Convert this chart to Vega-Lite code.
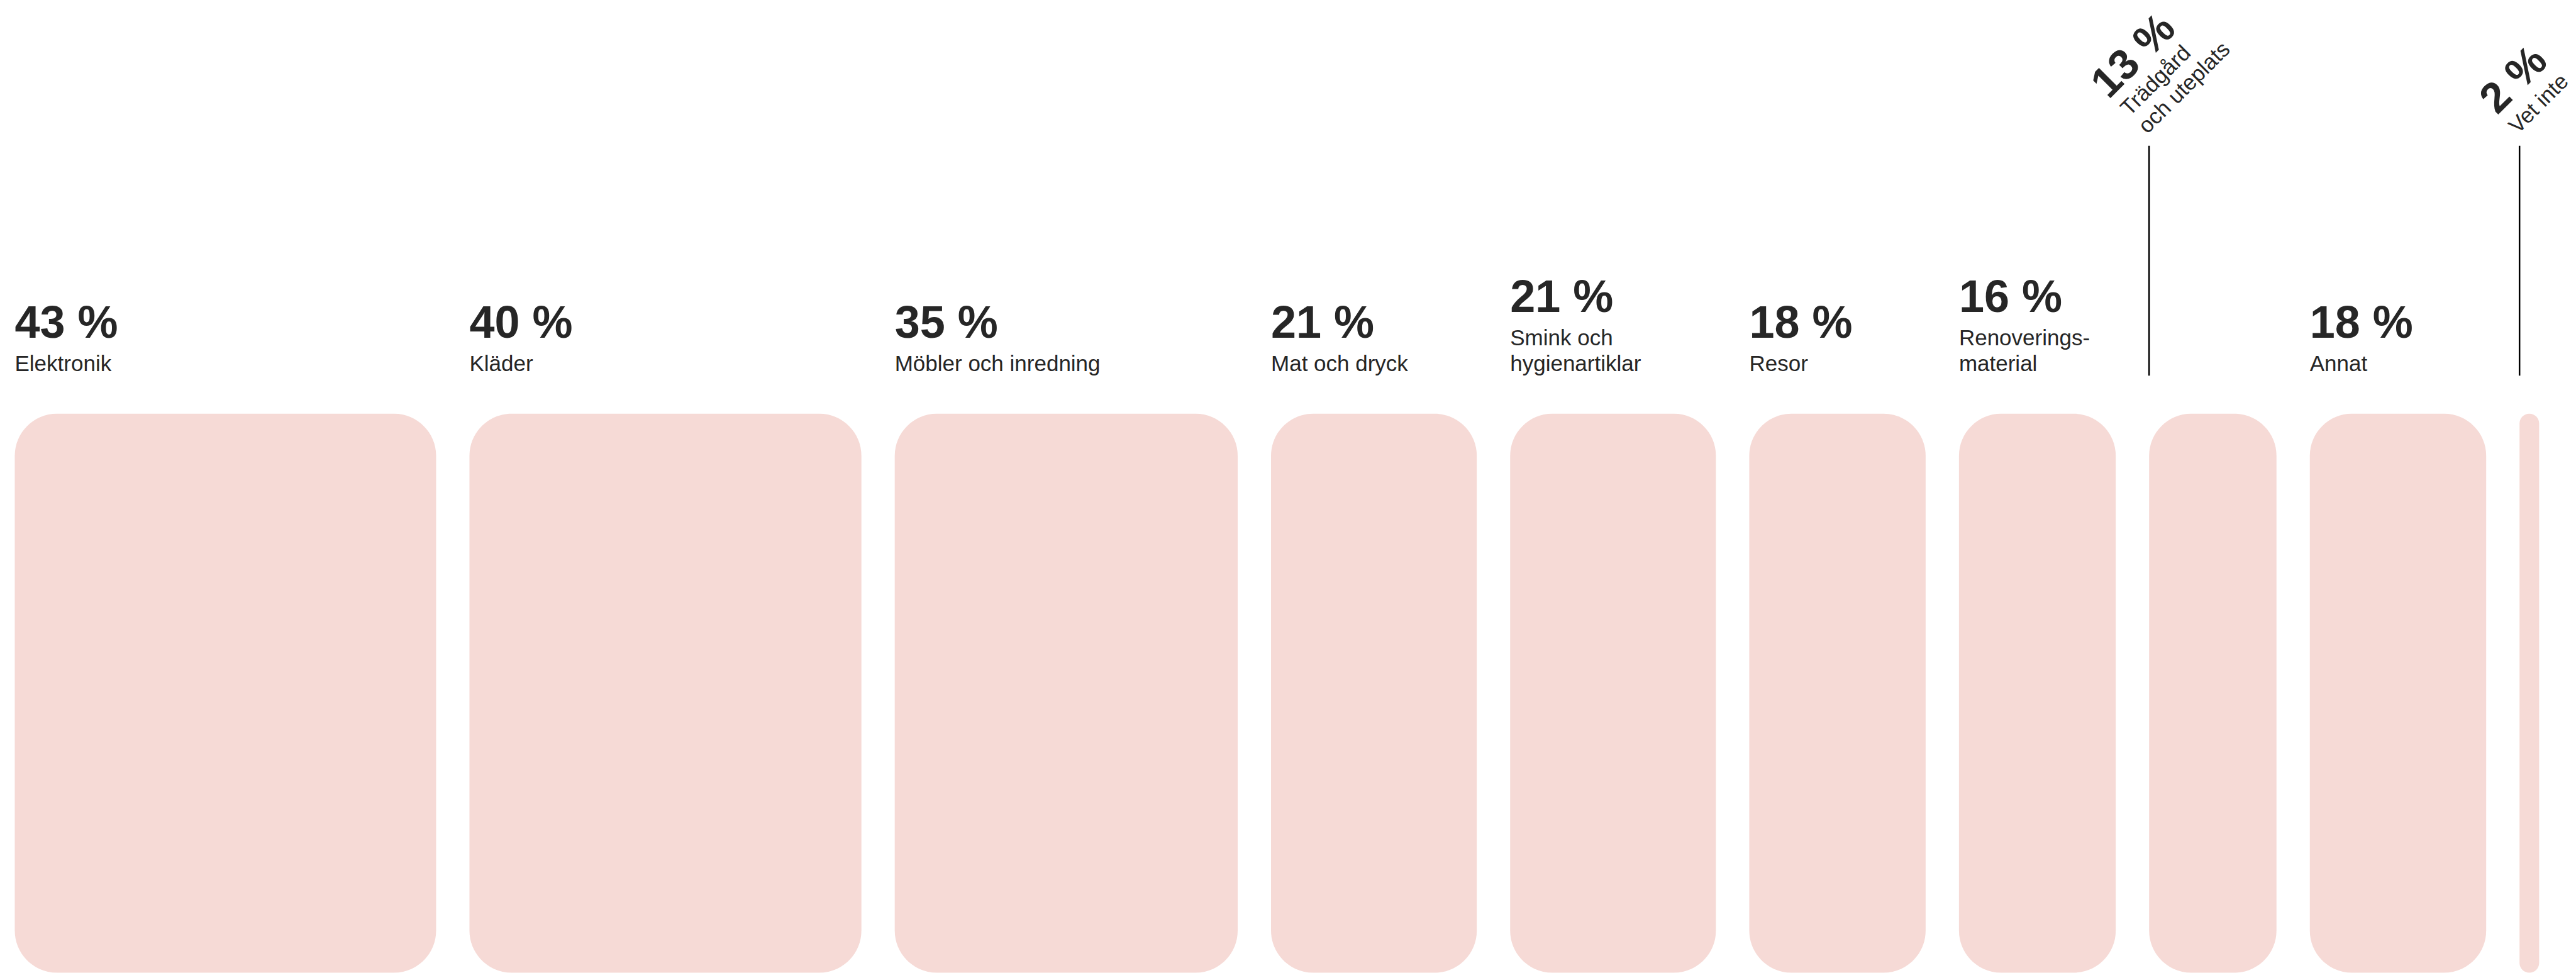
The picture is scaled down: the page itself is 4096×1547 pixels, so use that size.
{
  "$schema": "https://vega.github.io/schema/vega-lite/v6.json",
  "width": 4096,
  "height": 1547,
  "autosize": {"type": "fit", "contains": "padding"},
  "padding": 0,
  "background": "white",
  "config": {"view": {"stroke": null}, "text": {"font": "Liberation Sans", "color": "#262626"}},
  "data": {"values": [
    {"order": 1, "category": "Elektronik", "value": 43, "l1": "", "l2": "Elektronik"},
    {"order": 2, "category": "Kläder", "value": 40, "l1": "", "l2": "Kläder"},
    {"order": 3, "category": "Möbler och inredning", "value": 35, "l1": "", "l2": "Möbler och inredning"},
    {"order": 4, "category": "Mat och dryck", "value": 21, "l1": "", "l2": "Mat och dryck"},
    {"order": 5, "category": "Smink och hygienartiklar", "value": 21, "l1": "Smink och", "l2": "hygienartiklar"},
    {"order": 6, "category": "Resor", "value": 18, "l1": "", "l2": "Resor"},
    {"order": 7, "category": "Renoveringsmaterial", "value": 16, "l1": "Renoverings-", "l2": "material"},
    {"order": 8, "category": "Trädgård och uteplats", "value": 13, "l1": "Trädgård", "l2": "och uteplats"},
    {"order": 9, "category": "Annat", "value": 18, "l1": "", "l2": "Annat"},
    {"order": 10, "category": "Vet inte", "value": 2, "l1": "", "l2": "Vet inte"}
  ]},
  "transform": [
    {"window": [{"op": "sum", "field": "value", "as": "cum"}, {"op": "row_number", "as": "idx"}], "sort": [{"field": "order"}], "frame": [null, 0]},
    {"calculate": "datum.cum - datum.value + 3.403 * (datum.idx - 1)", "as": "x0"},
    {"calculate": "datum.x0 + datum.value", "as": "x1"},
    {"calculate": "datum.value + ' %'", "as": "pct"}
  ],
  "encoding": {
    "x": {"field": "x0", "type": "quantitative", "scale": {"domain": [-1.508, 261.39], "nice": false, "zero": false}, "axis": null}
  },
  "layer": [
    {
      "mark": {"type": "bar", "cornerRadius": 67, "color": "#f6dad6"},
      "encoding": {
        "x2": {"field": "x1"},
        "y": {"datum": 57.43, "type": "quantitative", "scale": {"domain": [0, 100], "nice": false, "zero": false}, "axis": null},
        "y2": {"datum": -0.1}
      }
    },
    {
      "transform": [{"filter": "datum.value >= 15"}],
      "mark": {"type": "text", "align": "left", "baseline": "alphabetic", "fontSize": 35},
      "encoding": {
        "y": {"datum": 61.83, "type": "quantitative", "scale": {"domain": [0, 100], "nice": false, "zero": false}, "axis": null},
        "text": {"field": "l2"}
      }
    },
    {
      "transform": [{"filter": "datum.value >= 15 && datum.l1 != ''"}],
      "mark": {"type": "text", "align": "left", "baseline": "alphabetic", "fontSize": 35, "dy": -40.5},
      "encoding": {
        "y": {"datum": 61.83, "type": "quantitative", "scale": {"domain": [0, 100], "nice": false, "zero": false}, "axis": null},
        "text": {"field": "l1"}
      }
    },
    {
      "transform": [{"filter": "datum.value >= 15 && datum.l1 == ''"}],
      "mark": {"type": "text", "align": "left", "baseline": "alphabetic", "fontSize": 72, "fontWeight": "bold", "dy": -53},
      "encoding": {
        "y": {"datum": 61.83, "type": "quantitative", "scale": {"domain": [0, 100], "nice": false, "zero": false}, "axis": null},
        "text": {"field": "pct"}
      }
    },
    {
      "transform": [{"filter": "datum.value >= 15 && datum.l1 != ''"}],
      "mark": {"type": "text", "align": "left", "baseline": "alphabetic", "fontSize": 72, "fontWeight": "bold", "dy": -93.5},
      "encoding": {
        "y": {"datum": 61.83, "type": "quantitative", "scale": {"domain": [0, 100], "nice": false, "zero": false}, "axis": null},
        "text": {"field": "pct"}
      }
    },
    {
      "transform": [{"filter": "datum.value < 15"}],
      "mark": {"type": "rule", "color": "#000000", "strokeWidth": 2.5},
      "encoding": {
        "y": {"datum": 85.0, "type": "quantitative", "scale": {"domain": [0, 100], "nice": false, "zero": false}, "axis": null},
        "y2": {"datum": 61.34}
      }
    },
    {
      "transform": [{"filter": "datum.value < 15"}],
      "mark": {"type": "text", "align": "left", "baseline": "alphabetic", "fontSize": 35, "angle": 315, "dx": 10.5, "dy": -14.5},
      "encoding": {
        "y": {"datum": 85.0, "type": "quantitative", "scale": {"domain": [0, 100], "nice": false, "zero": false}, "axis": null},
        "text": {"field": "l2"}
      }
    },
    {
      "transform": [{"filter": "datum.value < 15 && datum.l1 != ''"}],
      "mark": {"type": "text", "align": "left", "baseline": "alphabetic", "fontSize": 35, "angle": 315, "dx": 10.5, "dy": -54.5},
      "encoding": {
        "y": {"datum": 85.0, "type": "quantitative", "scale": {"domain": [0, 100], "nice": false, "zero": false}, "axis": null},
        "text": {"field": "l1"}
      }
    },
    {
      "transform": [{"filter": "datum.value < 15 && datum.l1 == ''"}],
      "mark": {"type": "text", "align": "left", "baseline": "alphabetic", "fontSize": 68, "fontWeight": "bold", "angle": 315, "dx": 9, "dy": -59},
      "encoding": {
        "y": {"datum": 85.0, "type": "quantitative", "scale": {"domain": [0, 100], "nice": false, "zero": false}, "axis": null},
        "text": {"field": "pct"}
      }
    },
    {
      "transform": [{"filter": "datum.value < 15 && datum.l1 != ''"}],
      "mark": {"type": "text", "align": "left", "baseline": "alphabetic", "fontSize": 68, "fontWeight": "bold", "angle": 315, "dx": 6, "dy": -97},
      "encoding": {
        "y": {"datum": 85.0, "type": "quantitative", "scale": {"domain": [0, 100], "nice": false, "zero": false}, "axis": null},
        "text": {"field": "pct"}
      }
    }
  ]
}
